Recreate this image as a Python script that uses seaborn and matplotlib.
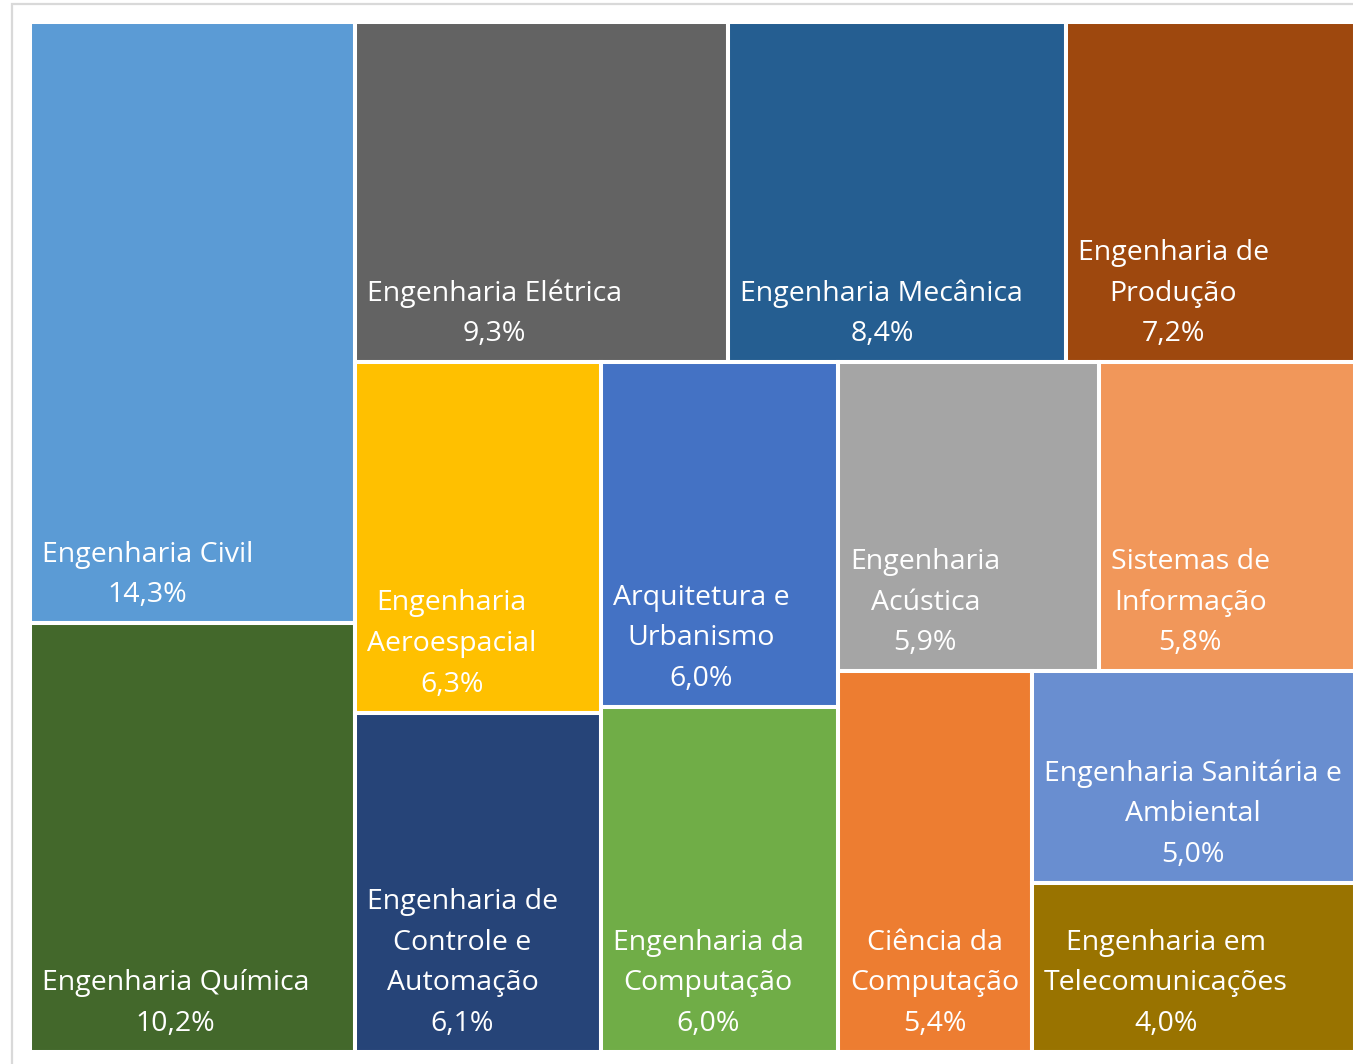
import matplotlib.pyplot as plt
import seaborn as sns
import pandas as pd
from matplotlib.patches import Rectangle

# course names (as wrapped in the chart) and share of students in %
courses = [
    "Engenharia Civil", "Engenharia Química", "Engenharia Elétrica",
    "Engenharia Mecânica", "Engenharia de\nProdução", "Engenharia\nAeroespacial",
    "Engenharia de\nControle e\nAutomação", "Arquitetura e\nUrbanismo",
    "Engenharia da\nComputação", "Engenharia\nAcústica", "Sistemas de\nInformação",
    "Ciência da\nComputação", "Engenharia Sanitária e\nAmbiental",
    "Engenharia em\nTelecomunicações",
]
shares = [14.3, 10.2, 9.3, 8.4, 7.2, 6.3, 6.1, 6.0, 6.0, 5.9, 5.8, 5.4, 5.0, 4.0]
colors = [
    "#5B9BD5", "#43682B", "#636363", "#255E91", "#9E480E", "#FFC000",
    "#264478", "#4472C4", "#70AD47", "#A5A5A5", "#F1975A", "#ED7D31",
    "#698ED0", "#997300",
]

# how Excel grouped the tiles: 'h' = side by side, 'v' = stacked
layout = ("h", [("v", [0, 1]),
                ("v", [("h", [2, 3, 4]),
                       ("h", [("v", [5, 6]), ("v", [7, 8]),
                              ("v", [("h", [9, 10]),
                                     ("h", [11, ("v", [12, 13])])])])])])

df = pd.DataFrame({"course": courses, "share": shares, "color": colors})


def node_total(node):
    if isinstance(node, int):
        return df.share[node]
    return sum(node_total(c) for c in node[1])


def place(node, x, y, w, h, out):
    if isinstance(node, int):
        out[node] = (x, y, w, h)
        return
    direction, children = node
    tot = node_total(node)
    for c in children:
        frac = node_total(c) / tot
        if direction == "h":
            place(c, x, y, w * frac, h, out)
            x += w * frac
        else:
            place(c, x, y, w, h * frac, out)
            y += h * frac


sns.set_theme(style="white")
plt.rcParams["font.family"] = ["Open Sans", "DejaVu Sans"]

W, H = 1325, 1030
fig = plt.figure(figsize=(13.53, 10.64), dpi=100)
ax = fig.add_axes([30 / 1353, 1 - 1052 / 1064, W / 1353, H / 1064])
ax.set_xlim(0, W)
ax.set_ylim(H, 0)
ax.axis("off")

# chart area frame
fig.add_artist(Rectangle((12 / 1353, -0.1), 1.2, 1.1 - 4 / 1064,
                         transform=fig.transFigure, fill=False,
                         edgecolor="#D9D9D9", lw=1.6))

rects = {}
place(layout, 0, 0, W, H, rects)

for i, row in df.iterrows():
    x, y, w, h = rects[i]
    ax.add_patch(Rectangle((x, y), w, h, facecolor=row.color,
                           edgecolor="white", lw=2.9, clip_on=False))
    label = row.course + "\n" + f"{row.share:.1f}".replace(".", ",") + "%"
    ax.text(x + 12, y + h - 14, label, ha="left", va="bottom",
            multialignment="center", color="white", fontsize=20.5,
            linespacing=1.6)

fig.savefig("out.png", dpi=100)
